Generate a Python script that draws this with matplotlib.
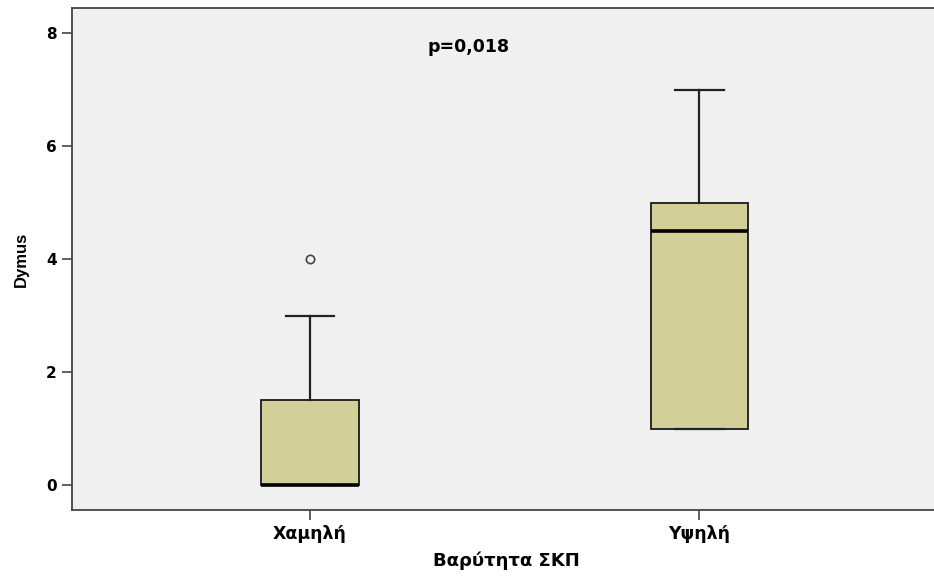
import matplotlib
matplotlib.use("Agg")
import matplotlib.pyplot as plt

categories = ["Χαμηλή", "Υψηλή"]
whisker_low = [0, 1]
q1 = [0, 1]
median = [0, 4.5]
q3 = [1.5, 5]
whisker_high = [3, 7]
outliers = [[4], []]
y_ticks = [0, 2, 4, 6, 8]
p_text = "p=0,018"
x_label = "Βαρύτητα ΣΚΠ"
y_label = "Dymus"

plt.rcParams['font.family'] = ['DejaVu Sans']

fig = plt.figure(figsize=(9.34, 5.78), dpi=100)
fig.patch.set_facecolor("white")
ax = fig.add_axes([0.0771, 0.1176, 0.93, 0.8685])
ax.set_facecolor("#F0F0F0")

stats = []
for i, name in enumerate(categories):
    stats.append(dict(label=name, whislo=whisker_low[i], q1=q1[i], med=median[i],
                      q3=q3[i], whishi=whisker_high[i], fliers=outliers[i]))

ax.bxp(stats, positions=[1, 2], widths=0.25, patch_artist=True,
       boxprops=dict(facecolor="#D3CF98", edgecolor="#1a1a1a", linewidth=1.3),
       medianprops=dict(color="black", linewidth=2.6),
       whiskerprops=dict(color="#222222", linewidth=1.6),
       capprops=dict(color="#222222", linewidth=1.6),
       capwidths=0.125,
       flierprops=dict(marker="o", markersize=6, markerfacecolor="none",
                       markeredgecolor="#444444", markeredgewidth=1.2))

ax.set_xlim(0.389, 2.62)
ax.set_ylim(-0.442, 8.442)
ax.set_yticks(y_ticks)
ax.set_xticks([1, 2])
ax.set_xticklabels(categories)

for s in ["left", "bottom", "top"]:
    ax.spines[s].set_color("#444444")
    ax.spines[s].set_linewidth(1.3)
ax.spines["right"].set_visible(False)

ax.tick_params(axis="both", direction="out", length=7, width=1.2, color="#444444",
               pad=4)
ax.tick_params(axis="y", labelsize=11)
ax.tick_params(axis="x", labelsize=12.5)
for lab in ax.get_xticklabels() + ax.get_yticklabels():
    lab.set_fontweight("bold")

ax.set_xlabel(x_label, fontsize=13, fontweight="bold", labelpad=6)
ax.set_ylabel(y_label, fontsize=12, fontweight="bold", labelpad=12,
              family=['Liberation Sans', 'DejaVu Sans'])

ax.text(1.407, 7.75, p_text, ha="center", va="center", fontsize=12.5, fontweight="bold")

fig.savefig("out.png", dpi=100, facecolor="white")
